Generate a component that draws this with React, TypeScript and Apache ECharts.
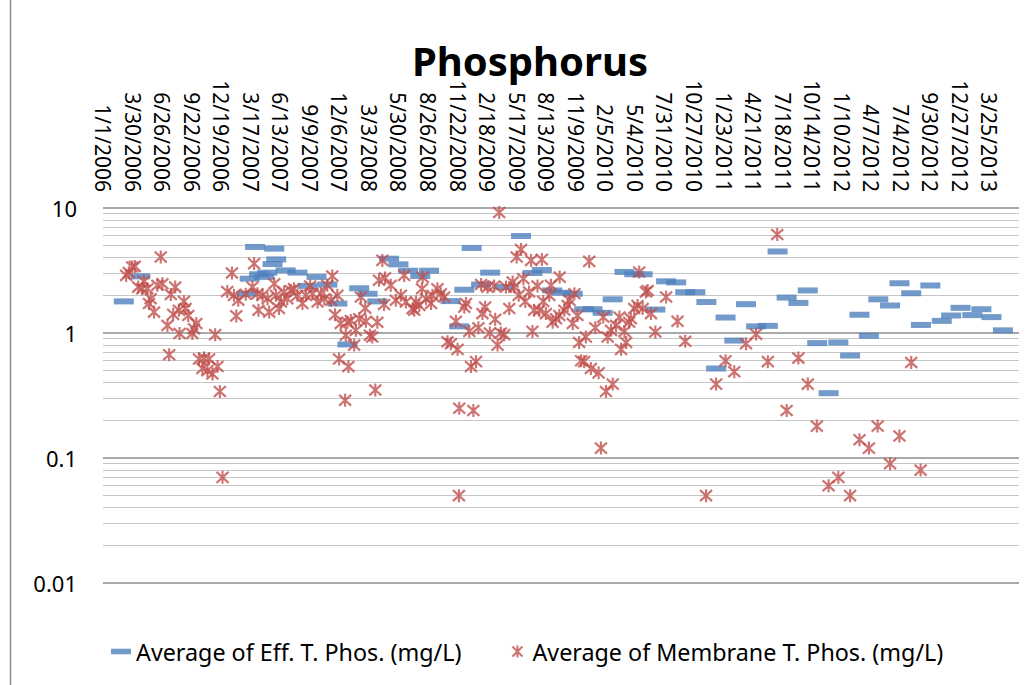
import { useEffect, useRef } from "react";
import * as echarts from "echarts";

// ---- axis tick labels ----
const xTickLabels = [
  "1/1/2006", "3/30/2006", "6/26/2006", "9/22/2006", "12/19/2006", "3/17/2007",
  "6/13/2007", "9/9/2007", "12/6/2007", "3/3/2008", "5/30/2008", "8/26/2008",
  "11/22/2008", "2/18/2009", "5/17/2009", "8/13/2009", "11/9/2009", "2/5/2010",
  "5/4/2010", "7/31/2010", "10/27/2010", "1/23/2011", "4/21/2011", "7/18/2011",
  "10/14/2011", "1/10/2012", "4/7/2012", "7/4/2012", "9/30/2012", "12/27/2012",
  "3/25/2013",
];
const yTickLabels = ["0.01", "0.1", "1", "10"];
const yTickValues = [0.01, 0.1, 1, 10];
const minorGridValues = [
  0.02, 0.03, 0.04, 0.05, 0.06, 0.07, 0.08, 0.09,
  0.2, 0.3, 0.4, 0.5, 0.6, 0.7, 0.8, 0.9,
  2, 3, 4, 5, 6, 7, 8, 9,
];
const DAY_STEP = 88; // days between date labels
const DAY_MAX = 2728; // axis end, days after 1/1/2006

// ---- series: Average of Eff. T. Phos. (days after 1/1/2006, mg/L) ----
const effDays = [
  62, 111, 427, 437, 453, 465, 480, 489, 505, 510, 516, 544, 579, 609, 636, 668,
  698, 728, 763, 788, 817, 852, 880, 909, 945, 971, 1035, 1061, 1076, 1098, 1126,
  1153, 1195, 1245, 1279, 1307, 1338, 1365, 1399, 1433, 1458, 1488, 1518, 1553,
  1582, 1607, 1645, 1677, 1707, 1734, 1764, 1797, 1826, 1854, 1880, 1915, 1945,
  1980, 2009, 2036, 2071, 2099, 2127, 2161, 2190, 2225, 2253, 2281, 2309, 2344,
  2372, 2407, 2436, 2464, 2498, 2526, 2554, 2589, 2616, 2646, 2680,
];
const effValues = [
  1.79, 2.84, 2.06, 2.72, 4.88, 2.95, 2.81, 3.04, 3.56, 4.73, 3.88, 3.17, 3.04, 2.38, 2.81, 2.44,
  1.72, 0.81, 2.28, 2.06, 1.79, 3.93, 3.54, 3.15, 2.86, 3.15, 1.8, 1.13, 2.22, 4.79, 2.44,
  3.04, 2.33, 5.97, 3.02, 3.19, 2.19, 2.1, 2.06, 1.55, 1.55, 1.45, 1.86, 3.08,
  2.95, 2.95, 1.54, 2.59, 2.54, 2.12, 2.12, 1.77, 0.52, 1.33, 0.87, 1.7, 1.13,
  1.14, 4.49, 1.92, 1.74, 2.19, 0.83, 0.33, 0.84, 0.66, 1.4, 0.95, 1.86, 1.66,
  2.5, 2.08, 1.16, 2.4, 1.25, 1.38, 1.59, 1.39, 1.55, 1.34, 1.05,
];

// ---- series: Average of Membrane T. Phos. (days after 1/1/2006, mg/L) ----
const memDays = [
  69, 77, 87, 95, 105, 117, 122, 132, 137, 142, 152, 162, 172, 177, 192, 197, 202,
  209, 215, 226, 228, 241, 246, 254, 266, 271, 278, 286, 296, 301, 311, 316, 326,
  334, 341, 348, 356, 370, 384, 390, 397, 403, 425, 445, 450, 460, 463, 475, 490,
  495, 510, 515, 524, 530, 539, 549, 559, 569, 579, 594, 604, 617, 624, 639, 649,
  659, 668, 679, 683, 691, 698, 703, 708, 721, 723, 728, 731, 738, 748, 753, 763,
  768, 781, 783, 795, 802, 811, 817, 822, 832, 837, 840, 857, 872, 887, 897, 902,
  922, 927, 932, 942, 950, 952, 962, 977, 981, 996, 1006, 1016, 1026, 1036, 1051,
  1056, 1060, 1061, 1076, 1081, 1091, 1096, 1103, 1111, 1118, 1126, 1130, 1138,
  1145, 1152, 1165, 1168, 1175, 1180, 1185, 1195, 1200, 1210, 1220, 1225, 1232,
  1238, 1245, 1252, 1258, 1269, 1275, 1279, 1284, 1294, 1299, 1307, 1311, 1319,
  1329, 1334, 1339, 1349, 1359, 1360, 1374, 1384, 1389, 1399, 1404, 1413, 1418,
  1424, 1433, 1438, 1448, 1453, 1466, 1476, 1483, 1490, 1498, 1503, 1513, 1518,
  1528, 1538, 1543, 1553, 1558, 1567, 1572, 1582, 1592, 1597, 1607, 1617, 1622,
  1632, 1645, 1677, 1711, 1734, 1796, 1826, 1854, 1880, 1915, 1945, 1980, 2008,
  2036, 2071, 2099, 2126, 2161, 2190, 2225, 2253, 2281, 2307, 2344, 2372, 2407,
  2435,
];
const memValues = [
  2.89, 3.04, 3.37, 3.41, 2.33, 2.26, 2.59, 2.26, 1.72, 1.88, 1.47, 2.41, 4.05, 2.48, 1.15, 0.67, 2.03,
  1.41, 2.33, 1.52, 0.99, 1.79, 1.57, 1.38, 0.99, 1.08, 1.19, 0.62, 0.52, 0.63, 0.5, 0.62, 0.47,
  0.97, 0.54, 0.34, 0.07, 2.15, 3.02, 2.0, 1.37, 1.83, 2.04, 2.33, 3.59, 2.06, 1.52, 2.0, 1.88,
  1.47, 2.48, 2.0, 1.57, 1.77, 2.13, 1.88, 2.19, 2.26, 2.0, 1.72, 2.0, 2.38, 2.06, 1.77, 2.06,
  1.88, 2.41, 1.83, 2.86, 1.4, 2.0, 0.62, 1.19, 0.29, 0.96, 1.22, 0.54, 1.26, 0.8, 1.05, 1.3,
  1.94, 1.58, 1.24, 0.96, 0.93, 0.35, 1.22, 2.64, 3.81, 1.69, 2.76, 2.41, 1.83, 2.0, 2.89, 1.77,
  1.57, 1.52, 1.77, 1.66, 2.26, 2.8, 1.88, 1.72, 2.0, 2.26, 2.06, 1.94, 0.85, 0.82, 1.24,
  0.74, 0.05, 0.25, 1.61, 1.72, 1.03, 0.54, 0.24, 0.59, 1.1, 2.44, 1.43, 1.61,
  2.33, 1.0, 2.38, 1.29, 0.8, 9.2, 1.0, 0.97, 2.33, 1.57, 2.56, 2.33, 4.05,
  2.0, 4.66, 2.72, 1.79, 2.13, 3.81, 1.03, 1.52, 2.38, 1.52, 3.88, 1.79, 1.43,
  2.0, 2.41, 1.22, 1.3, 1.38, 2.8, 1.52, 1.66, 1.83, 1.19, 2.06, 1.38, 0.84,
  0.6, 0.59, 0.93, 3.74, 0.52, 1.1, 0.48, 0.12, 1.34, 0.34, 0.93, 1.05, 0.39,
  1.15, 1.34, 0.74, 1.03, 0.84, 1.22, 1.3, 1.57, 1.66, 3.08, 1.57, 2.13, 2.19,
  1.43, 1.02, 1.94, 1.24, 0.86, 0.05, 0.39, 0.6, 0.49, 0.82, 0.98, 0.59, 6.13,
  0.24, 0.63, 0.39, 0.18, 0.06, 0.07, 0.05, 0.14, 0.12, 0.18, 0.09, 0.15, 0.58,
  0.08,
];

const EFF_NAME = "Average of Eff. T. Phos. (mg/L)";
const MEM_NAME = "Average of Membrane T. Phos. (mg/L)";
const ASTERISK = "path://M0,1L10,11M10,1L0,11M5,0L5,12";
const DASH = "path://M0,0h18v5h-18z";
const FONT = "'Noto Sans', 'DejaVu Sans', sans-serif";

export default function App() {
  const ref = useRef<HTMLDivElement>(null);

  useEffect(() => {
    if (!ref.current) return;
    const chart = echarts.init(ref.current, undefined, { renderer: "svg" });

    const effData = effDays.map((d, i) => [d, effValues[i]]);
    const memData = memDays.map((d, i) => [d, memValues[i]]);

    chart.setOption({
      animation: false,
      backgroundColor: "#ffffff",
      title: {
        text: "Phosphorus",
        left: 525,
        textAlign: "center",
        top: 35,
        textStyle: { fontFamily: FONT, fontWeight: "bold", fontSize: 40, color: "#000" },
      },
      graphic: [
        {
          type: "rect",
          silent: true,
          z: -10,
          shape: { x: 10.5, y: -10, width: 1040, height: 720 },
          style: { fill: "none", stroke: "#8c8c8c", lineWidth: 1.5 },
        },
      ],
      legend: {
        left: 106,
        top: 635,
        itemWidth: 20,
        itemHeight: 12,
        itemGap: 50,
        data: [
          { name: EFF_NAME, icon: DASH },
          { name: MEM_NAME, icon: ASTERISK },
        ],
        textStyle: { fontFamily: FONT, fontSize: 23.3, color: "#000" },
      },
      grid: { left: 103, right: 6, top: 208, bottom: 102, containLabel: false },
      xAxis: {
        type: "value",
        position: "top",
        min: 0,
        max: DAY_MAX,
        interval: DAY_STEP,
        axisLine: { show: false },
        axisTick: { show: false },
        splitLine: { show: false },
        axisLabel: {
          rotate: 90,
          margin: 16,
          interval: 0,
          hideOverlap: false,
          fontFamily: FONT,
          fontSize: 21,
          color: "#000",
          padding: [12, 0, 0, 0],
          formatter: (v: number) => {
            const i = Math.round(v / DAY_STEP);
            return xTickLabels[i] ?? "";
          },
        },
      },
      yAxis: {
        type: "log",
        logBase: 10,
        min: 0.01,
        max: 10,
        axisLine: { show: false },
        axisTick: { show: false },
        splitLine: { show: true, lineStyle: { color: "#8c8c8c", width: 1.5 } },
        axisLabel: {
          margin: 26,
          fontFamily: FONT,
          fontSize: 22,
          color: "#000",
          formatter: (v: number) => {
            let best = 0;
            for (let i = 0; i < yTickValues.length; i++) {
              if (Math.abs(Math.log10(v) - Math.log10(yTickValues[i])) <
                  Math.abs(Math.log10(v) - Math.log10(yTickValues[best]))) best = i;
            }
            return yTickLabels[best];
          },
        },
      },
      series: [
        {
          name: "minor-grid",
          type: "scatter",
          data: [],
          silent: true,
          z: 0,
          markLine: {
            silent: true,
            z: 0,
            symbol: ["none", "none"],
            label: { show: false },
            lineStyle: { color: "#c6c6c6", width: 1, type: "solid" },
            data: minorGridValues.map((v) => ({ yAxis: v })),
          },
        },
        {
          name: EFF_NAME,
          type: "scatter",
          symbol: "rect",
          symbolSize: [20, 6],
          itemStyle: { color: "#4F81BD" },
          z: 3,
          data: effData,
        },
        {
          name: MEM_NAME,
          type: "scatter",
          symbol: ASTERISK,
          symbolSize: [12, 13],
          itemStyle: { color: "rgba(0,0,0,0)", borderColor: "#C0504D", borderWidth: 2.2 },
          z: 4,
          data: memData,
        },
      ],
    });

    return () => chart.dispose();
  }, []);

  return (
    <div
      ref={ref}
      style={{ position: "fixed", left: 0, top: 0, width: 1025, height: 685, background: "#fff" }}
    />
  );
}
